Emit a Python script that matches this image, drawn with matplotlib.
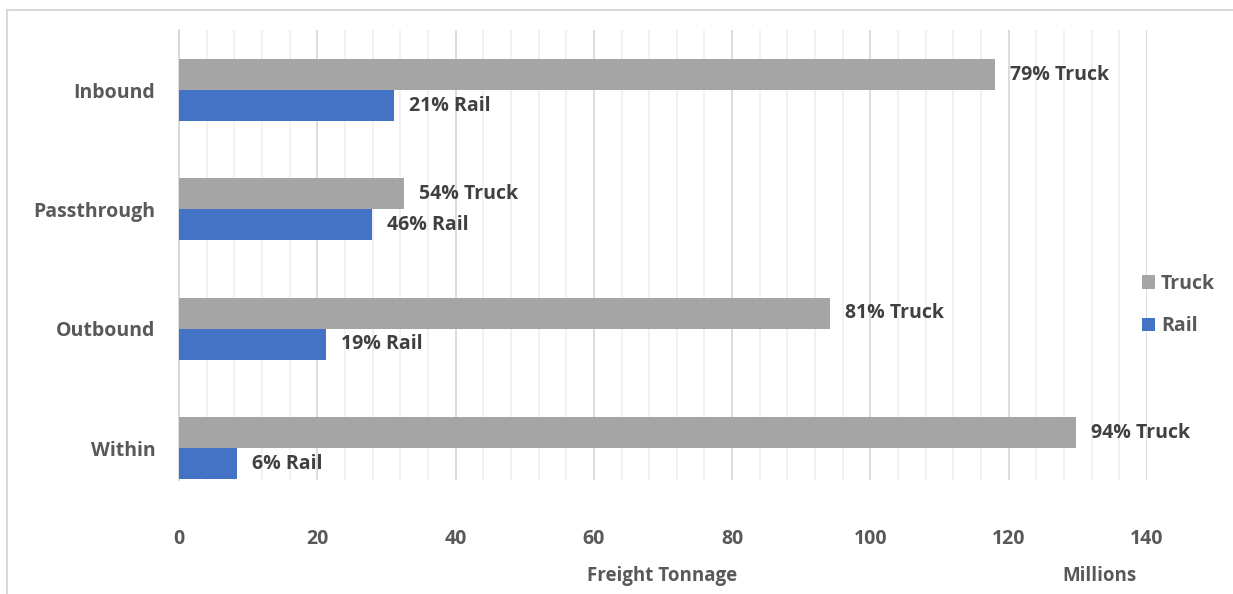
import matplotlib.pyplot as plt
from matplotlib.patches import Rectangle
import numpy as np

categories = ['Within', 'Outbound', 'Passthrough', 'Inbound']
truck = [129.7, 94.1, 32.5, 118.0]
rail = [8.4, 21.3, 27.9, 31.1]
truck_labels = ['94% Truck', '81% Truck', '54% Truck', '79% Truck']
rail_labels = ['6% Rail', '19% Rail', '46% Rail', '21% Rail']

plt.rcParams['font.family'] = ['Open Sans', 'DejaVu Sans']

fig = plt.figure(figsize=(12.33, 5.94), dpi=100)
ax = fig.add_axes([179 / 1233, 1 - 480 / 594, 968 / 1233, 450 / 594])

# outer chart frame
fig.patches.append(Rectangle((7 / 1233, -0.1), 1.2, (584 / 594) + 0.1,
                             transform=fig.transFigure, fill=False,
                             edgecolor='#D9D9D9', linewidth=1.5))

y = np.arange(len(categories))
h = 0.26
tb = ax.barh(y + h / 2, truck, height=h, color='#A5A5A5', label='Truck', zorder=3)
rb = ax.barh(y - h / 2, rail, height=h, color='#4472C4', label='Rail', zorder=3)

for bar, lab in zip(tb, truck_labels):
    ax.text(bar.get_width() + 2.2, bar.get_y() + bar.get_height() / 2, lab,
            va='center', ha='left', fontsize=14, fontweight='bold', color='#404040')
for bar, lab in zip(rb, rail_labels):
    ax.text(bar.get_width() + 2.2, bar.get_y() + bar.get_height() / 2, lab,
            va='center', ha='left', fontsize=14, fontweight='bold', color='#404040')

ax.set_xlim(0, 140)
ax.set_ylim(-0.268, 3.503)
ax.set_xticks(np.arange(0, 141, 20))
ax.set_xticks(np.arange(0, 141, 4), minor=True)
ax.grid(axis='x', which='major', color='#D9D9D9', linewidth=1.3, zorder=0)
ax.grid(axis='x', which='minor', color='#F0F0F0', linewidth=1.3, zorder=0)
ax.tick_params(axis='both', which='both', length=0)
ax.tick_params(axis='x', pad=35, labelsize=14, labelcolor='#595959')
ax.tick_params(axis='y', pad=17, labelsize=14, labelcolor='#595959')
for t in ax.get_xticklabels() + ax.get_yticklabels():
    t.set_fontweight('bold')
ax.set_yticks(y)
ax.set_yticklabels(categories)

for s in ['top', 'right', 'bottom']:
    ax.spines[s].set_visible(False)
ax.spines['left'].set_color('#D9D9D9')
ax.spines['left'].set_linewidth(1.3)

fig.text(662 / 1233, 1 - 576 / 594, 'Freight Tonnage', ha='center', va='center',
         fontsize=13.5, fontweight='bold', color='#595959')
fig.text(1099 / 1233, 1 - 576 / 594, 'Millions', ha='center', va='center',
         fontsize=13.5, fontweight='bold', color='#595959')

handles, labels = ax.get_legend_handles_labels()
leg = fig.legend(handles, labels, loc='center left',
                 bbox_to_anchor=(1124 / 1233, 1 - 305 / 594), frameon=False,
                 handlelength=0.7, handleheight=0.7, handletextpad=0.3,
                 labelspacing=1.15, prop={'size': 14, 'weight': 'bold'})
for t in leg.get_texts():
    t.set_color('#595959')

fig.savefig('out.png', dpi=100)
